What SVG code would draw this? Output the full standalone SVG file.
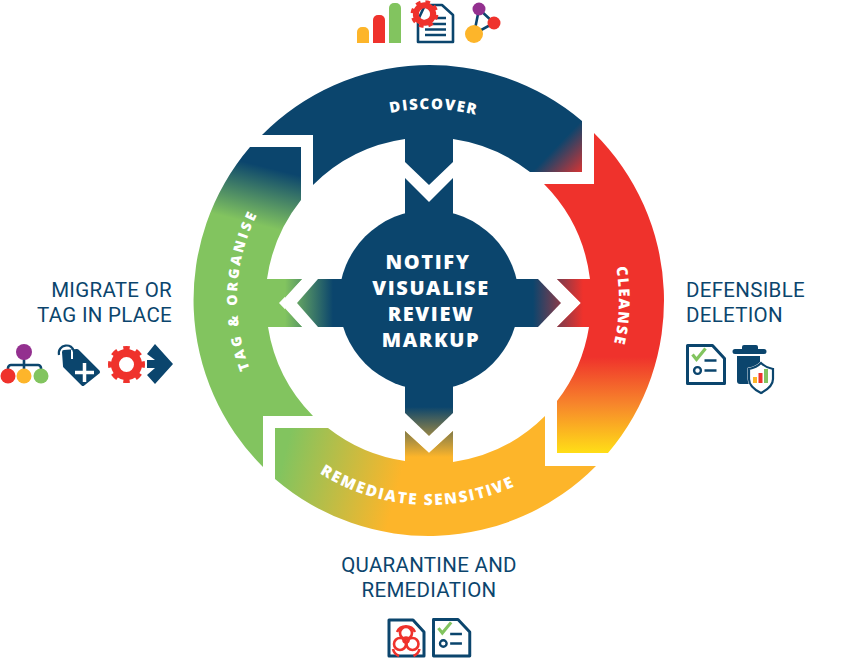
<svg xmlns="http://www.w3.org/2000/svg" width="860" height="658" viewBox="0 0 860 658">
<style>
.lbl{font-family:Roboto,"Open Sans","Liberation Sans",sans-serif;font-size:20.500px;letter-spacing:.3px;fill:#0B456D}
.ring{font-family:"Open Sans","Liberation Sans",sans-serif;font-weight:800;font-size:15px;fill:#fff;letter-spacing:1.500px}
.hub{font-family:"Open Sans","Liberation Sans",sans-serif;font-weight:800;font-size:20px;fill:#fff;letter-spacing:1.600px;text-anchor:middle}
.navy{fill:#0B456D}.red{fill:#EF322C}.amb{fill:#FDB52A}.grn{fill:#82C45F}.pur{fill:#93308F}
.doc{fill:#fff;stroke:#0B456D;stroke-width:3;stroke-linejoin:round}
.ln{stroke:#0B456D;stroke-width:2.600;fill:none}
.chk{stroke:#82C45F;stroke-width:3.200;fill:none}
</style>
<defs>
<linearGradient id="gD" gradientUnits="userSpaceOnUse" x1="556" y1="147" x2="585" y2="175"><stop offset="0" stop-color="#0B456D"/><stop offset="1" stop-color="#EF322C"/></linearGradient>
<linearGradient id="gC" gradientUnits="userSpaceOnUse" x1="0" y1="357" x2="0" y2="453"><stop offset="0" stop-color="#EF322C"/><stop offset=".5" stop-color="#F7872B"/><stop offset="1" stop-color="#FFDE17"/></linearGradient>
<linearGradient id="gR" gradientUnits="userSpaceOnUse" x1="283" y1="460" x2="397" y2="490"><stop offset="0" stop-color="#82C45F"/><stop offset="1" stop-color="#FDB52A"/></linearGradient>
<linearGradient id="gT" gradientUnits="userSpaceOnUse" x1="277" y1="170" x2="263" y2="226"><stop offset="0" stop-color="#0B456D"/><stop offset="1" stop-color="#82C45F"/></linearGradient>
<linearGradient id="gHR" gradientUnits="userSpaceOnUse" x1="533" y1="0" x2="583" y2="0"><stop offset="0" stop-color="#0B456D"/><stop offset="1" stop-color="#EF322C"/></linearGradient>
<linearGradient id="gHL" gradientUnits="userSpaceOnUse" x1="285" y1="0" x2="333" y2="0"><stop offset="0" stop-color="#82C45F"/><stop offset="1" stop-color="#0B456D"/></linearGradient>
<linearGradient id="gHB" gradientUnits="userSpaceOnUse" x1="0" y1="407" x2="0" y2="457"><stop offset="0" stop-color="#0B456D"/><stop offset="1" stop-color="#FDB52A"/></linearGradient>
<g id="gear"><circle r="11.500" fill="none" stroke="#EF322C" stroke-width="8"/><circle r="16" fill="none" stroke="#EF322C" stroke-width="5" pathLength="80" stroke-dasharray="5 5" stroke-dashoffset="2.500"/></g>
<path id="pD" d="M238,300A191,191 0 0 1 620,300"/>
<path id="pC" d="M429,110A190,190 0 0 1 429,490"/>
<path id="pR" d="M224,300A205,205 0 0 0 634,300"/>
<path id="pT" d="M429,492A192,192 0 0 1 429,108"/>
<g id="chk"><path class="doc" d="M0,0H25L37,13V38H0Z"/><path class="chk" d="M5,9L9,14L18,3"/><circle cx="10" cy="25" r="3.400" fill="none" stroke="#0B456D" stroke-width="2.400"/><path class="ln" d="M17,15H29M17,25H29"/></g>
</defs>

<g id="connectors"></g>

<g id="discover">
<path fill="url(#gD)" d="M262,135A235.500,235.500 0 0 1 582,121V172H530A163,163 0 0 0 453,139V162L429,185L405,162V139A163,163 0 0 0 313,185V135Z"/>
<text class="ring" style="letter-spacing:1.500px"><textPath href="#pD" startOffset="50.800%" text-anchor="middle">DISCOVER</textPath></text>
</g>
<g id="cleanse">
<path fill="url(#gC)" d="M594,133A235.500,235.500 0 0 1 608,453H557V401A163,163 0 0 0 589,327H557L581,303L557,279H590A163,163 0 0 0 544,184H594Z"/>
<path fill="url(#gHR)" d="M583,279V327H557L581,303L557,279Z"/>
<text class="ring" style="letter-spacing:1.600px"><textPath href="#pC" startOffset="51%" text-anchor="middle">CLEANSE</textPath></text>
</g>
<g id="remediate">
<path fill="url(#gR)" d="M596,466A235.500,235.500 0 0 1 275,479V428H328A163,163 0 0 0 405,461V431L429,453L453,431V462A163,163 0 0 0 545,416V466Z"/>
<path fill="url(#gHB)" d="M405,431L429,453L453,431V461.500A163,163 0 0 1 405,461Z"/>
<text class="ring" style="font-size:15.500px;letter-spacing:1.800px"><textPath href="#pR" startOffset="48%" text-anchor="middle">REMEDIATE SENSITIVE</textPath></text>
</g>
<g id="tag-organise">
<path fill="url(#gT)" d="M263,467A235.500,235.500 0 0 1 250,147H301V200A163,163 0 0 0 267,279H302L279,303L302,327H268A163,163 0 0 0 313,416H263Z"/>
<path fill="url(#gHL)" d="M285,279H302L285,297.800ZM285,308.300L302,327H285Z"/>
<text class="ring" style="font-size:14px;letter-spacing:2.900px"><textPath href="#pT" startOffset="51.700%" text-anchor="middle">TAG &amp; ORGANISE</textPath></text>
</g>
<g id="hub">
<circle class="navy" cx="429" cy="300" r="90"/>
<path class="navy" d="M405,178L429,202L453,178V225H405Z"/>
<path fill="url(#gHR)" d="M510,279H538L561,303L538,327H510Z"/>
<path fill="url(#gHL)" d="M348,279H318L297,303L318,327H348Z"/>
<path fill="url(#gHB)" d="M405,380H453V413L429,436L405,413Z"/>
<text class="hub" x="428" y="269">NOTIFY</text>
<text class="hub" x="431" y="295">VISUALISE</text>
<text class="hub" x="431" y="321">REVIEW</text>
<text class="hub" x="431" y="347">MARKUP</text>
</g>

<g id="top-icons">
<path class="amb" d="M357,43V32a5,5 0 0 1 5,-5h2a5,5 0 0 1 5,5V43Z"/>
<path class="red" d="M373,43V20a5,5 0 0 1 5,-5h2a5,5 0 0 1 5,5V43Z"/>
<path class="grn" d="M389,43V8a5,5 0 0 1 5,-5h2a5,5 0 0 1 5,5V43Z"/>
<path fill="#fff" stroke="#0B456D" stroke-width="2.600" stroke-linejoin="round" d="M425,5H442L453,15V42H418V20Z"/>
<path class="ln" d="M433,18H446M425,24H446M425,29.500H446M425,35H446" stroke-width="2.200"/>
<use href="#gear" transform="translate(424.500,14) rotate(15) scale(.75)"/>
<path class="ln" d="M479,9L474,34L494,23Z"/>
<circle class="pur" cx="479" cy="9" r="6.500"/><circle class="red" cx="494" cy="23" r="6.500"/><circle class="amb" cx="474" cy="34" r="9"/>
</g>

<g id="migrate">
<text class="lbl" x="172" y="297" text-anchor="end">MIGRATE OR</text>
<text class="lbl" x="172" y="322" text-anchor="end">TAG IN PLACE</text>
<path class="ln" stroke-width="3" d="M24,355V372M8,372V368a3,3 0 0 1 3,-3H38a3,3 0 0 1 3,3V372"/>
<circle class="pur" cx="24" cy="352" r="8"/><circle class="red" cx="8" cy="376" r="7.500"/><circle class="amb" cx="24" cy="376" r="7.500"/><circle class="grn" cx="41" cy="376" r="7.500"/>
<path class="navy" d="M64,352L77,351L98,372L83,384L65,366Z" stroke="#0B456D" stroke-width="4" stroke-linejoin="round"/>
<path d="M84.500,363V382M75,372.500H94" stroke="#fff" stroke-width="3.500" fill="none"/>
<path d="M72,350V359" fill="none" stroke="#fff" stroke-width="2"/>
<path d="M59,355C57,344 73,342 74,352" fill="none" stroke="#0B456D" stroke-width="2.200"/>
<use href="#gear" transform="translate(126.500,364.500)"/>
<path class="navy" d="M147,354L155,344L173,364L155,384L147,375L155,368H147V360H155Z"/>
</g>

<g id="deletion">
<text class="lbl" x="686" y="297">DEFENSIBLE</text>
<text class="lbl" x="686" y="322">DELETION</text>
<use href="#chk" transform="translate(687.500,345.500)"/>
<path class="navy" d="M742,349V347a2,2 0 0 1 2,-2H756a2,2 0 0 1 2,2V349H764a1.500,1.500 0 0 1 0,5H735a1.500,1.500 0 0 1 0,-5Z"/>
<path class="navy" d="M737,356H760V384H740a3,3 0 0 1 -3,-3Z"/>
<path fill="#fff" stroke="#fff" stroke-width="3" d="M749,369C754,368 758,366 761,363C764,366 768,368 773,369V379C773,386 767,390 761,393C755,390 749,386 749,379Z"/>
<path fill="#fff" stroke="#0B456D" stroke-width="2.200" d="M749,369C754,368 758,366 761,363C764,366 768,368 773,369V379C773,386 767,390 761,393C755,390 749,386 749,379Z"/>
<rect class="amb" x="753" y="377" width="4" height="6"/><rect class="red" x="758.500" y="373" width="4" height="10"/><rect class="grn" x="764" y="369" width="4" height="14"/>
</g>

<g id="quarantine">
<text class="lbl" x="429" y="572" text-anchor="middle">QUARANTINE AND</text>
<text class="lbl" x="429" y="597" text-anchor="middle">REMEDIATION</text>
<path class="doc" d="M389,620H413L424,632V656H389Z"/>
<g fill="none" stroke="#EF322C" stroke-width="2.600"><circle cx="406" cy="633" r="6"/><circle cx="400" cy="644" r="6"/><circle cx="412.500" cy="644" r="6"/><circle cx="406" cy="640" r="2.500"/><path d="M397,632a10,10 0 0 1 18,0M393,649a10,10 0 0 0 6,7M419.500,649a10,10 0 0 1 -6,7"/></g>
<use href="#chk" transform="translate(433.500,619.500) scale(.98,.96)"/>
</g>
</svg>
